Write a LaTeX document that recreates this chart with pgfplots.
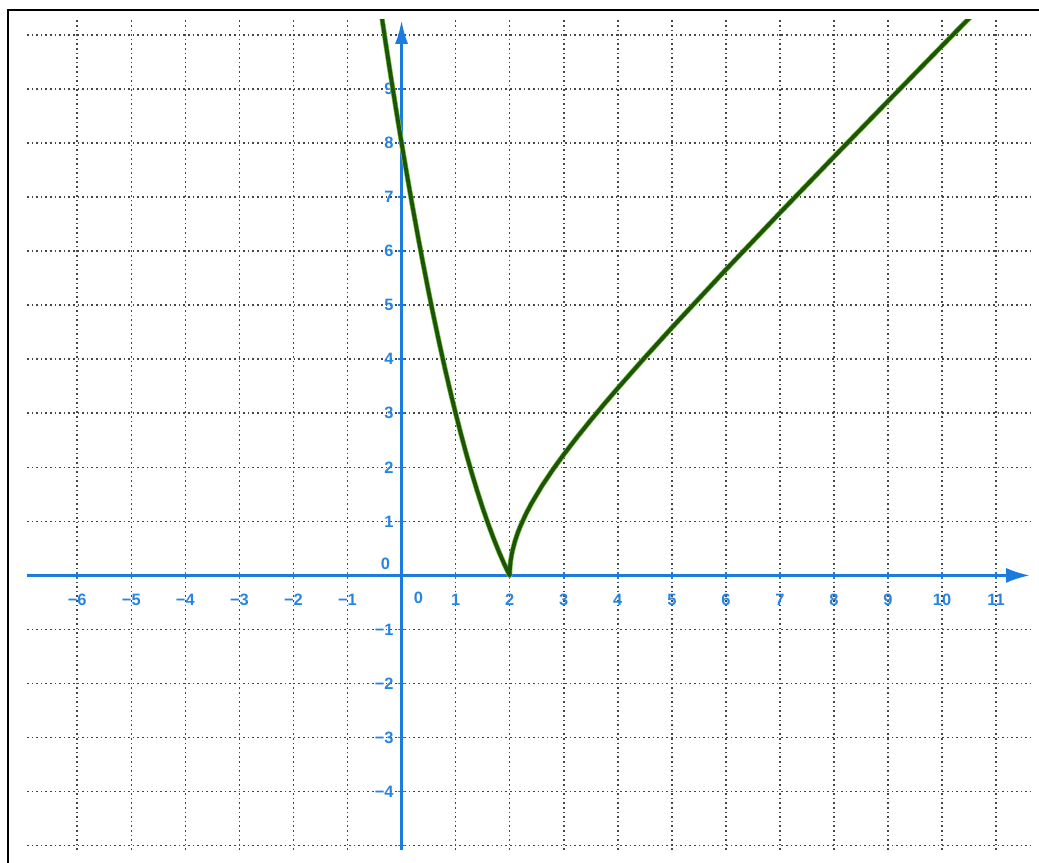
\documentclass[border=0pt]{standalone}
\usepackage{pgfplots}
\pgfplotsset{compat=1.18}
\usepackage{pgfplotstable}
\usepackage{fontspec}
\setmainfont{Liberation Sans}
\usetikzlibrary{arrows.meta}

\definecolor{axisblue}{RGB}{28,124,222}
\definecolor{labelblue}{RGB}{40,132,225}
\definecolor{curvegreen}{RGB}{28,84,8}
\definecolor{halogreen}{RGB}{125,190,70}
\definecolor{gridgray}{RGB}{70,70,70}

% curve: left branch down to the cusp at (2,0), right branch up
\pgfplotstableread{
x y
-0.4 10.56
-0.3 9.89
-0.2 9.24
-0.1 8.61
0 8
0.1 7.41
0.2 6.84
0.3 6.29
0.4 5.76
0.5 5.25
0.6 4.76
0.7 4.29
0.8 3.84
0.9 3.41
1.0 3.00
1.1 2.61
1.2 2.24
1.3 1.89
1.4 1.56
1.5 1.25
1.6 0.96
1.7 0.69
1.8 0.44
1.9 0.21
2.0 0
2.001 0.0633
2.005 0.1415
2.01 0.2002
2.02 0.2835
2.035 0.3758
2.05 0.4500
2.1 0.6403
2.15 0.7890
2.2 0.9165
2.3 1.1358
2.4 1.3266
2.6 1.6613
2.8 1.9596
3.0 2.2361
3.25 2.5617
3.5 2.8723
3.75 3.1721
4.0 3.4641
4.5 4.0311
5.0 4.5826
6.0 5.6569
7.0 6.7082
8.0 7.7460
9.0 8.7750
10.0 9.7980
11.0 10.8167
}\curve

\begin{document}
\begin{tikzpicture}
\path[use as bounding box] (-27bp,-13bp) rectangle (1012bp,850bp);
\begin{axis}[
  at={(0,0)}, anchor=south west,
  x=54.05bp, y=54.05bp,
  xmin=-6.93, xmax=11.63, ymin=-5.08, ymax=10.28,
  axis lines=middle,
  axis line style={axisblue, line width=3.2bp},
  x axis line style={-{Latex[length=24bp,width=15bp]}},
  y axis line style={-{Latex[length=24bp,width=13bp]}},
  xtick={-6,-5,-4,-3,-2,-1,1,2,3,4,5,6,7,8,9,10,11},
  xticklabels={−6,−5,−4,−3,−2,−1,1,2,3,4,5,6,7,8,9,10,11},
  ytick={-5,-4,-3,-2,-1,1,2,3,4,5,6,7,8,9,10},
  yticklabels={,−4,−3,−2,−1,1,2,3,4,5,6,7,8,9,},
  tick style={axisblue, line width=1.6bp},
  major tick length=7bp,
  ticklabel style={font=\fontsize{16.5}{18}\selectfont\bfseries, text=labelblue},
  xticklabel style={anchor=center, yshift=-21bp},
  yticklabel style={anchor=east, xshift=-1bp},
  grid=major,
  grid style={gridgray, line width=1.6bp, dash pattern=on 1.6bp off 3bp},
  clip=true,
]
\addplot[halogreen, line width=5.2bp, line join=round] table[x=x, y=y] {\curve};
\addplot[curvegreen, line width=3.8bp, line join=round] table[x=x, y=y] {\curve};
\node[font=\fontsize{16.5}{18}\selectfont\bfseries, text=labelblue] at (axis cs:0.31,-0.42) {0};
\node[font=\fontsize{16.5}{18}\selectfont\bfseries, text=labelblue] at (axis cs:-0.30,0.21) {0};
\end{axis}
\draw[black, line width=2bp] (-19bp,-20bp) -- (-19bp,840bp) -- (1020bp,840bp);
\end{tikzpicture}
\end{document}
